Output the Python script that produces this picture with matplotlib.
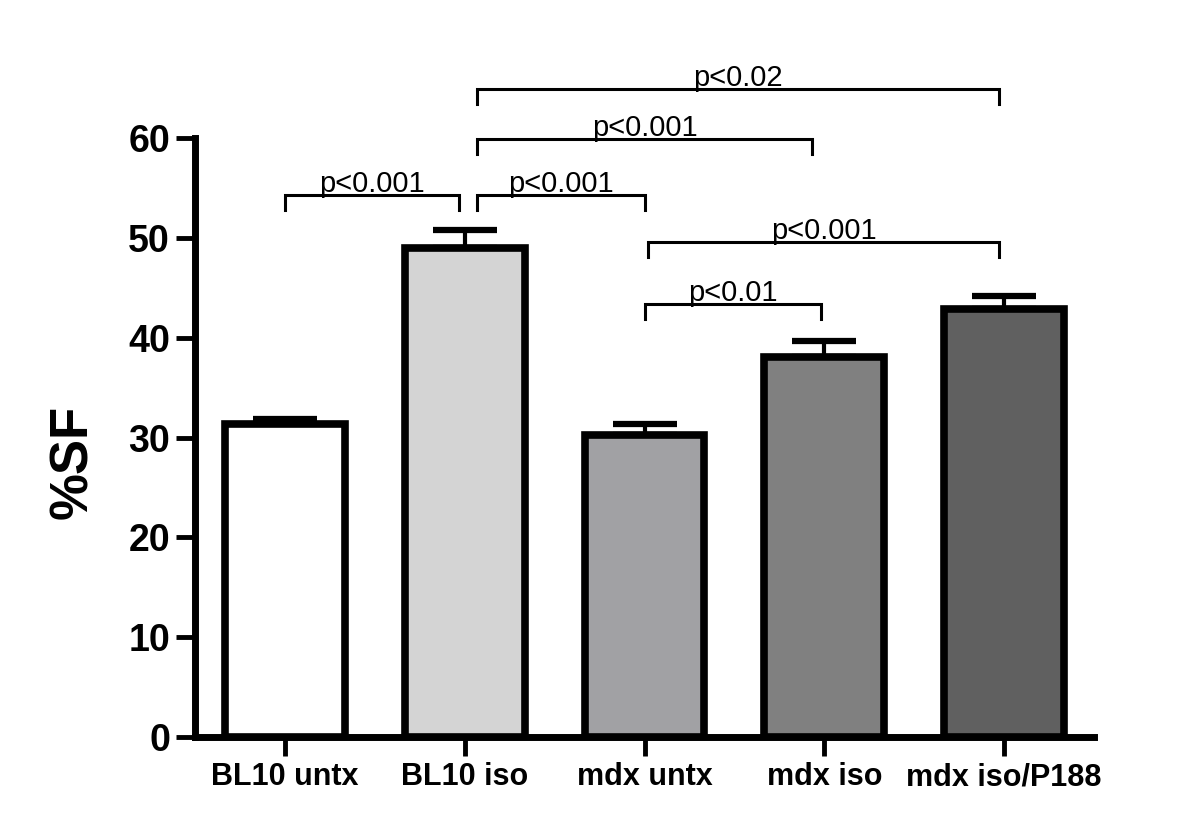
import matplotlib
matplotlib.use("Agg")
import matplotlib.pyplot as plt

categories = ["BL10 untx", "BL10 iso", "mdx untx", "mdx iso", "mdx iso/P188"]
means = [31.4, 49.0, 30.3, 38.1, 42.9]
errors = [0.5, 1.8, 1.1, 1.6, 1.3]
colors = ["#ffffff", "#d4d4d4", "#a1a1a4", "#808080", "#606060"]

# brackets: (x_left, x_right, y_line, label)
br_x1 = [0.0, 1.07, 1.07, 1.07, 2.02, 2.0]
br_x2 = [0.97, 2.0, 2.93, 3.97, 3.97, 2.98]
br_y = [54.3, 54.3, 59.9, 64.9, 49.6, 43.4]
br_lab = ["p<0.001", "p<0.001", "p<0.001", "p<0.02", "p<0.001", "p<0.01"]

plt.rcParams['font.family'] = ['Liberation Sans', 'DejaVu Sans']

fig = plt.figure(figsize=(12, 8.34), dpi=100)
ax = fig.add_axes([0.1625, 0.1163, 0.7492, 0.7182])

x = list(range(len(categories)))
ax.bar(x, means, width=0.667, color=colors, edgecolor="black", linewidth=5.5, zorder=2)
ax.errorbar(x, means, yerr=[[0]*len(errors), errors], fmt="none", ecolor="black",
            elinewidth=3, capsize=23, capthick=4.5, zorder=1)

ax.set_xlim(-0.5, 4.5)
ax.set_ylim(0, 60)
ax.set_yticks([0, 10, 20, 30, 40, 50, 60])
ax.set_xticks(x)
ax.set_xticklabels(categories, fontsize=22, fontweight="bold")
for lab in ax.get_yticklabels():
    lab.set_fontsize(27)
    lab.set_fontweight("bold")
ax.tick_params(axis="both", width=3.5, length=14, color="black")
ax.tick_params(axis="y", pad=4)
ax.tick_params(axis="x", pad=4)
ax.spines["top"].set_visible(False)
ax.spines["right"].set_visible(False)
ax.spines["left"].set_linewidth(5)
ax.spines["bottom"].set_linewidth(5)
ax.spines["left"].set_capstyle("projecting")
ax.spines["bottom"].set_capstyle("projecting")

ax.set_ylabel("%SF", fontsize=38, fontweight="bold")
ax.yaxis.set_label_coords(-0.108, 0.46)

leg = 1.5
for x1, x2, y, lab in zip(br_x1, br_x2, br_y, br_lab):
    ax.plot([x1, x1, x2, x2], [y - leg, y, y, y - leg], color="black", lw=2.2,
            clip_on=False, solid_joinstyle="miter")
    ax.text((x1 + x2) / 2, y - 0.3, lab, ha="center", va="bottom", fontsize=21,
            clip_on=False)

fig.savefig("out.png", dpi=100)
